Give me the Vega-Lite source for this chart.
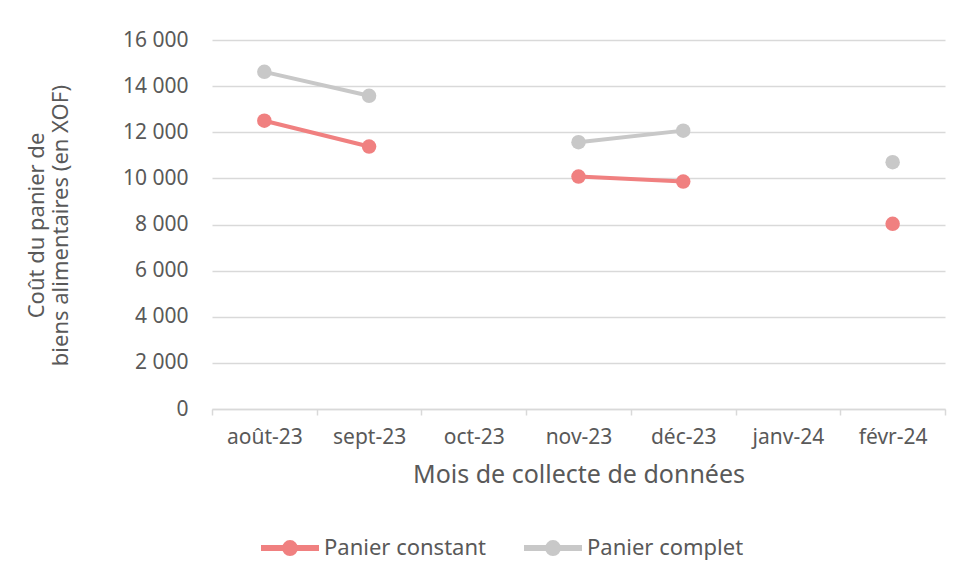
{
  "$schema": "https://vega.github.io/schema/vega-lite/v6.json",
  "autosize": "none",
  "width": 733,
  "height": 369,
  "padding": {"left": 212, "top": 40, "right": 14, "bottom": 171},
  "background": "white",
  "config": {
    "view": {"stroke": null},
    "font": "Noto Sans",
    "axis": {"labelColor": "#595959", "titleColor": "#595959", "labelFont": "Noto Sans", "titleFont": "Noto Sans", "titleFontWeight": "normal"},
    "legend": {"labelColor": "#595959", "labelFont": "Noto Sans"}
  },
  "data": {
    "values": [
      {"mois": "août-23", "serie": "Panier constant", "cout": 12500},
      {"mois": "sept-23", "serie": "Panier constant", "cout": 11380},
      {"mois": "oct-23", "serie": "Panier constant", "cout": null},
      {"mois": "nov-23", "serie": "Panier constant", "cout": 10080},
      {"mois": "déc-23", "serie": "Panier constant", "cout": 9860},
      {"mois": "janv-24", "serie": "Panier constant", "cout": null},
      {"mois": "févr-24", "serie": "Panier constant", "cout": 8030},
      {"mois": "août-23", "serie": "Panier complet", "cout": 14620},
      {"mois": "sept-23", "serie": "Panier complet", "cout": 13580},
      {"mois": "oct-23", "serie": "Panier complet", "cout": null},
      {"mois": "nov-23", "serie": "Panier complet", "cout": 11570},
      {"mois": "déc-23", "serie": "Panier complet", "cout": 12070},
      {"mois": "janv-24", "serie": "Panier complet", "cout": null},
      {"mois": "févr-24", "serie": "Panier complet", "cout": 10700}
    ]
  },
  "encoding": {
    "x": {
      "field": "mois", "type": "nominal",
      "scale": {"domain": ["août-23", "sept-23", "oct-23", "nov-23", "déc-23", "janv-24", "févr-24"], "paddingInner": 0, "paddingOuter": 0},
      "axis": {
        "title": "Mois de collecte de données", "titleFontSize": 25, "titlePadding": 15,
        "labelAngle": 0, "labelFontSize": 21, "labelPadding": 11,
        "tickBand": "extent", "ticks": true, "tickSize": 6, "tickColor": "#D9D9D9", "tickWidth": 1.5,
        "domainColor": "#D9D9D9", "domainWidth": 1.5, "grid": false
      }
    },
    "y": {
      "field": "cout", "type": "quantitative",
      "scale": {"domain": [0, 16000], "nice": false},
      "axis": {
        "title": ["Coût du panier de", "biens alimentaires (en XOF)"],
        "titleFontSize": 22, "titleLineHeight": 24, "titleX": -164, "titleY": 185, "titleBaseline": "bottom",
        "values": [0, 2000, 4000, 6000, 8000, 10000, 12000, 14000, 16000],
        "labelExpr": "replace(format(datum.value, ','), ',', ' ')",
        "labelFontSize": 21, "labelPadding": 24,
        "domain": false, "ticks": false,
        "grid": true, "gridColor": "#D9D9D9", "gridWidth": 1.5
      }
    },
    "color": {
      "field": "serie", "type": "nominal",
      "scale": {"domain": ["Panier constant", "Panier complet"], "range": ["#F08080", "#C8C8C8"]},
      "legend": {
        "title": null, "orient": "none", "direction": "horizontal",
        "legendX": 46, "legendY": 476,
        "symbolType": "M-1,0H1M-0.17,0A0.17,0.17,0,1,1,0.17,0A0.17,0.17,0,1,1,-0.17,0Z",
        "symbolSize": 3364, "symbolStrokeWidth": 6,
        "labelFontSize": 22, "labelLimit": 400, "labelOffset": 2, "columnPadding": 26
      }
    }
  },
  "layer": [
    {"mark": {"type": "line", "strokeWidth": 4, "invalid": "break-paths-show-domains"}},
    {"mark": {"type": "point", "filled": true, "opacity": 1, "size": 210}}
  ]
}
